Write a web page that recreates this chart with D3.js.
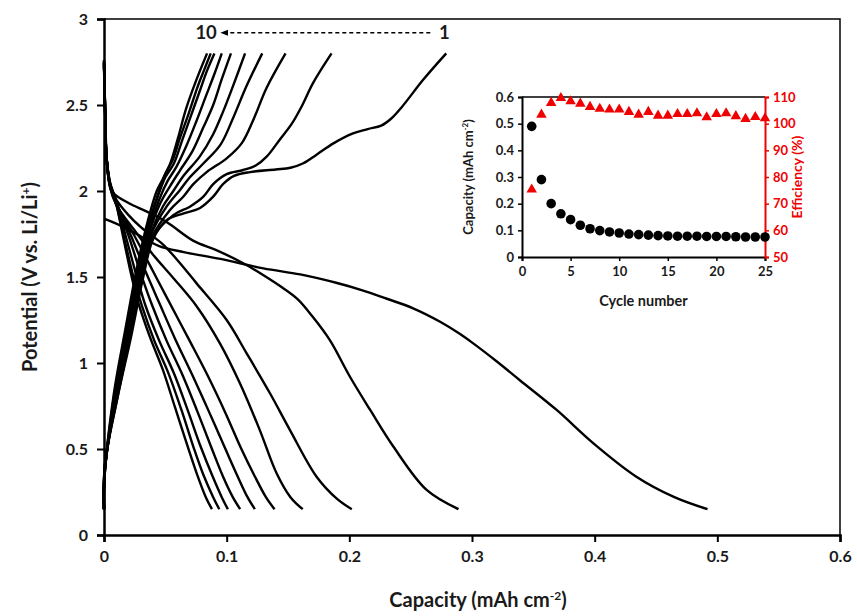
<!DOCTYPE html>
<html>
<head>
<meta charset="utf-8">
<script src="https://cdn.jsdelivr.net/npm/d3@7"></script>
<style>
  body { margin: 0; background: #fff; }
  svg { display: block; font-family: Lato, "Open Sans", sans-serif; font-weight: bold; }
</style>
</head>
<body>
<svg id="chart" width="857" height="616"></svg>
<script>
// Galvanostatic discharge curves, cycles 1..10 : [capacity mAh cm-2, potential V]
const discharge1 = [[0,1.84],[0.01,1.81],[0.024,1.76],[0.045,1.68],[0.065,1.645],[0.095,1.605],[0.13,1.55],[0.16,1.515],[0.19,1.465],[0.21,1.424],[0.23,1.375],[0.252,1.318],[0.274,1.24],[0.29,1.17],[0.301,1.114],[0.32,1.01],[0.339,0.9],[0.369,0.727],[0.399,0.533],[0.434,0.339],[0.465,0.22],[0.492,0.15]];
const discharge2 = [[0,2.75],[0.001,2.45],[0.002,2.22],[0.004,2.06],[0.0075,1.99],[0.02,1.93],[0.035,1.88],[0.051,1.82],[0.073,1.71],[0.092,1.655],[0.1135,1.58],[0.13,1.51],[0.145,1.44],[0.158,1.37],[0.17,1.27],[0.184,1.134],[0.2005,0.92],[0.217,0.727],[0.236,0.513],[0.263,0.262],[0.289,0.15]];
const discharge3 = [[0,2.76],[0.001,2.45],[0.002,2.2],[0.005,2.03],[0.01,1.95],[0.02,1.86],[0.03,1.79],[0.048,1.69],[0.062,1.58],[0.0755,1.463],[0.1,1.25],[0.1163,1.056],[0.1353,0.824],[0.1516,0.61],[0.1733,0.339],[0.19,0.21],[0.202,0.15]];
const discharge4 = [[0,2.76],[0.001,2.45],[0.002,2.2],[0.005,2.02],[0.01,1.92],[0.025,1.77],[0.04,1.63],[0.057,1.49],[0.0755,1.33],[0.0945,1.114],[0.1108,0.882],[0.127,0.61],[0.1407,0.359],[0.152,0.22],[0.162,0.15]];
const discharge5 = [[0,2.75],[0.001,2.44],[0.002,2.2],[0.005,2.02],[0.01,1.92],[0.024,1.75],[0.038,1.56],[0.052,1.37],[0.069,1.14],[0.085,0.92],[0.099,0.71],[0.112,0.5],[0.123,0.34],[0.132,0.22],[0.139,0.15]];
const discharge6 = [[0,2.75],[0.001,2.44],[0.002,2.2],[0.005,2.03],[0.01,1.93],[0.022,1.74],[0.034,1.53],[0.045,1.35],[0.058,1.14],[0.072,0.93],[0.086,0.71],[0.099,0.5],[0.109,0.34],[0.117,0.22],[0.123,0.15]];
const discharge7 = [[0,2.74],[0.001,2.44],[0.002,2.2],[0.005,2.04],[0.01,1.94],[0.02,1.74],[0.03,1.52],[0.039,1.34],[0.051,1.13],[0.064,0.93],[0.076,0.72],[0.088,0.5],[0.097,0.34],[0.105,0.22],[0.111,0.15]];
const discharge8 = [[0,2.74],[0.001,2.44],[0.002,2.2],[0.005,2.04],[0.01,1.94],[0.018,1.73],[0.026,1.52],[0.034,1.33],[0.045,1.13],[0.057,0.94],[0.068,0.73],[0.079,0.51],[0.088,0.35],[0.096,0.22],[0.101,0.15]];
const discharge9 = [[0,2.73],[0.001,2.43],[0.002,2.2],[0.005,2.04],[0.009,1.95],[0.016,1.74],[0.024,1.5],[0.031,1.33],[0.041,1.13],[0.052,0.95],[0.063,0.73],[0.073,0.51],[0.081,0.35],[0.089,0.22],[0.094,0.15]];
const discharge10 = [[0,2.72],[0.001,2.42],[0.002,2.2],[0.005,2.05],[0.009,1.96],[0.0157,1.73],[0.0226,1.5],[0.028,1.35],[0.0375,1.15],[0.048,0.96],[0.058,0.74],[0.068,0.52],[0.076,0.35],[0.083,0.22],[0.088,0.15]];

// Charge curves, cycles 1..10
const charge1 = [[0,0.15],[0.0008,0.42],[0.011,0.8],[0.022,1.15],[0.032,1.5],[0.04,1.72],[0.051,1.83],[0.065,1.87],[0.078,1.9],[0.089,1.967],[0.097,2.04],[0.106,2.088],[0.119,2.11],[0.14,2.125],[0.152,2.135],[0.162,2.16],[0.173,2.21],[0.187,2.277],[0.203,2.335],[0.215,2.36],[0.226,2.38],[0.234,2.42],[0.243,2.49],[0.26,2.645],[0.279,2.8]];
const charge2 = [[0,0.15],[0.0008,0.41],[0.011,0.8],[0.021,1.15],[0.031,1.5],[0.039,1.72],[0.0565,1.86],[0.07,1.909],[0.081,1.967],[0.089,2.04],[0.1,2.098],[0.1135,2.122],[0.124,2.15],[0.1326,2.2],[0.1434,2.3],[0.153,2.39],[0.161,2.49],[0.1706,2.63],[0.1855,2.8]];
const charge3 = [[0,0.15],[0.0007,0.4],[0.01,0.8],[0.021,1.15],[0.031,1.5],[0.039,1.73],[0.0538,1.89],[0.0646,1.967],[0.0728,2.04],[0.0837,2.11],[0.1,2.19],[0.1125,2.28],[0.1217,2.413],[0.1326,2.6],[0.148,2.8]];
const charge4 = [[0,0.15],[0.0007,0.39],[0.01,0.8],[0.02,1.15],[0.03,1.5],[0.038,1.74],[0.051,1.909],[0.062,2.006],[0.07,2.08],[0.081,2.16],[0.095,2.27],[0.105,2.42],[0.116,2.607],[0.129,2.8]];
const charge5 = [[0,0.15],[0.0006,0.38],[0.01,0.81],[0.02,1.16],[0.03,1.51],[0.038,1.75],[0.048,1.91],[0.0565,2.0],[0.065,2.09],[0.078,2.2],[0.089,2.33],[0.097,2.46],[0.105,2.607],[0.115,2.8]];
const charge6 = [[0,0.15],[0.0006,0.37],[0.0095,0.81],[0.019,1.16],[0.029,1.52],[0.037,1.76],[0.046,1.93],[0.054,2.03],[0.062,2.12],[0.072,2.23],[0.081,2.37],[0.089,2.5],[0.096,2.65],[0.1035,2.8]];
const charge7 = [[0,0.15],[0.0005,0.36],[0.009,0.81],[0.019,1.17],[0.029,1.53],[0.037,1.77],[0.045,1.95],[0.052,2.06],[0.059,2.14],[0.067,2.26],[0.075,2.4],[0.083,2.55],[0.09,2.68],[0.096,2.8]];
const charge8 = [[0,0.15],[0.0005,0.35],[0.009,0.82],[0.018,1.17],[0.028,1.54],[0.036,1.78],[0.044,1.97],[0.05,2.08],[0.057,2.16],[0.064,2.3],[0.071,2.44],[0.078,2.58],[0.084,2.7],[0.09,2.8]];
const charge9 = [[0,0.15],[0.0004,0.34],[0.0085,0.82],[0.018,1.18],[0.028,1.55],[0.036,1.8],[0.044,1.98],[0.05,2.1],[0.056,2.18],[0.062,2.31],[0.069,2.45],[0.076,2.6],[0.082,2.71],[0.087,2.8]];
const charge10 = [[0,0.15],[0.0004,0.33],[0.008,0.82],[0.017,1.18],[0.027,1.56],[0.0355,1.82],[0.043,2.0],[0.048,2.07],[0.054,2.16],[0.06,2.3],[0.067,2.48],[0.075,2.64],[0.084,2.8]];

const dischargeCurves = [discharge1, discharge2, discharge3, discharge4, discharge5, discharge6, discharge7, discharge8, discharge9, discharge10];
const chargeCurves = [charge1, charge2, charge3, charge4, charge5, charge6, charge7, charge8, charge9, charge10];

const xTicks = [0, 0.1, 0.2, 0.3, 0.4, 0.5, 0.6];
const yTicks = [0, 0.5, 1, 1.5, 2, 2.5, 3];

// Inset: capacity and coulombic efficiency vs cycle number
const cycles = d3.range(1, 26);
const capacity = [0.49,0.29,0.2,0.162,0.14,0.119,0.106,0.099,0.094,0.09,0.086,0.084,0.082,0.08,0.079,0.078,0.078,0.078,0.077,0.077,0.077,0.076,0.075,0.075,0.075];
const efficiency = [75.3,103.4,107.8,109.6,108.4,107.5,106.3,105.6,105.3,105.3,104.4,103.4,104.4,103,103,103.6,103.6,103.9,102.4,103.6,103.9,102.8,101.8,102.5,102];
const insetXTicks = [0, 5, 10, 15, 20, 25];
const insetCapTicks = [0, 0.1, 0.2, 0.3, 0.4, 0.5, 0.6];
const insetEffTicks = [50, 60, 70, 80, 90, 100, 110];

const RED = "#f00000";
const INK = "#1a1a1a";
const svg = d3.select("#chart");

// ---------- main plot ----------
const x = d3.scaleLinear().domain([0, 0.6]).range([104, 840]);
const y = d3.scaleLinear().domain([0, 3]).range([535, 19]);

const line = d3.line()
    .x(d => x(d[0]))
    .y(d => y(d[1]))
    .curve(d3.curveCatmullRom.alpha(0.5));

const curves = svg.append("g")
    .attr("fill", "none")
    .attr("stroke", "#000")
    .attr("stroke-width", 2.4)
    .attr("stroke-linejoin", "round");

curves.selectAll(".dis").data(dischargeCurves).enter().append("path")
    .attr("class", "dis").attr("d", line);
curves.selectAll(".chg").data(chargeCurves).enter().append("path")
    .attr("class", "chg").attr("d", line);

// frame
svg.append("path")
    .attr("d", `M${x(0)},${y(3)}H${x(0.6)}V${y(0)}`)
    .attr("fill", "none").attr("stroke", "#000").attr("stroke-width", 1.5);

const xAxis = svg.append("g")
    .attr("transform", `translate(0,${y(0)})`)
    .call(d3.axisBottom(x).tickValues(xTicks).tickSize(7).tickPadding(9).tickFormat(d3.format("")));
const yAxis = svg.append("g")
    .attr("transform", `translate(${x(0)},0)`)
    .call(d3.axisLeft(y).tickValues(yTicks).tickSize(7).tickPadding(9).tickFormat(d3.format("")));

[xAxis, yAxis].forEach(a => {
    a.select(".domain").attr("stroke-width", 2.5);
    a.selectAll(".tick line").attr("stroke-width", 2);
    a.selectAll("text").attr("font-size", 16).attr("font-weight", "bold")
        .attr("font-family", "Lato, sans-serif").attr("fill", INK);
});

svg.append("text")
    .attr("x", x(0.3) + 6).attr("y", 607)
    .attr("text-anchor", "middle").attr("font-size", 20).attr("fill", INK)
    .html('Capacity (mAh cm<tspan dy="-7" font-size="12">-2</tspan><tspan dy="7">)</tspan>');

svg.append("text")
    .attr("transform", `translate(37,${y(1.5)}) rotate(-90)`)
    .attr("text-anchor", "middle").attr("font-size", 20).attr("fill", INK)
    .html('Potential (V vs. Li/Li<tspan dy="-7" font-size="12">+</tspan><tspan dy="7">)</tspan>');

// cycle direction annotation
svg.append("defs").append("marker")
    .attr("id", "arrowhead").attr("viewBox", "0 0 10 10")
    .attr("refX", 5).attr("refY", 5)
    .attr("markerWidth", 6).attr("markerHeight", 6)
    .attr("orient", "auto-start-reverse")
    .append("path").attr("d", "M0,1L10,5L0,9Z").attr("fill", "#000");

svg.append("line")
    .attr("x1", x(0.266)).attr("x2", x(0.098))
    .attr("y1", y(2.92)).attr("y2", y(2.92))
    .attr("stroke", "#000").attr("stroke-width", 1.3)
    .attr("stroke-dasharray", "4,3")
    .attr("marker-end", "url(#arrowhead)");
svg.append("text").attr("x", x(0.092)).attr("y", y(2.92) + 6)
    .attr("text-anchor", "end").attr("font-size", 18.5).attr("fill", INK).text("10");
svg.append("text").attr("x", x(0.273)).attr("y", y(2.92) + 6)
    .attr("text-anchor", "start").attr("font-size", 18.5).attr("fill", INK).text("1");

// ---------- inset ----------
const ix = d3.scaleLinear().domain([0, 25]).range([522, 765]);
const iy = d3.scaleLinear().domain([0, 0.6]).range([257, 97]);
const iyE = d3.scaleLinear().domain([50, 110]).range([257, 97]);

const inset = svg.append("g");

inset.append("line")
    .attr("x1", ix(0)).attr("x2", ix(25)).attr("y1", iy(0.6)).attr("y2", iy(0.6))
    .attr("stroke", "#000").attr("stroke-width", 1.5);

const ixAxis = inset.append("g").attr("transform", `translate(0,${iy(0)})`)
    .call(d3.axisBottom(ix).tickValues(insetXTicks).tickSize(4).tickPadding(6));
const iyAxis = inset.append("g").attr("transform", `translate(${ix(0)},0)`)
    .call(d3.axisLeft(iy).tickValues(insetCapTicks).tickSize(4).tickPadding(4).tickFormat(d3.format("")));
const ieAxis = inset.append("g").attr("transform", `translate(${ix(25)},0)`)
    .call(d3.axisRight(iyE).tickValues(insetEffTicks).tickSize(4).tickPadding(4));

[ixAxis, iyAxis, ieAxis].forEach(a => {
    a.select(".domain").attr("stroke-width", 2);
    a.selectAll(".tick line").attr("stroke-width", 1.5);
    a.selectAll("text").attr("font-size", 13).attr("font-weight", "bold")
        .attr("font-family", "Lato, sans-serif").attr("fill", INK);
});
ieAxis.select(".domain").attr("stroke", RED);
ieAxis.selectAll(".tick line").attr("stroke", RED);
ieAxis.selectAll("text").attr("fill", RED);

inset.append("text")
    .attr("x", (ix(0) + ix(25)) / 2).attr("y", 306)
    .attr("text-anchor", "middle").attr("font-size", 14.5).attr("fill", INK)
    .text("Cycle number");
inset.append("text")
    .attr("transform", `translate(473,${iy(0.3)}) rotate(-90)`)
    .attr("text-anchor", "middle").attr("font-size", 13).attr("fill", INK)
    .html('Capacity (mAh cm<tspan dy="-5" font-size="8">-2</tspan><tspan dy="5">)</tspan>');
inset.append("text")
    .attr("transform", `translate(802,${iy(0.3)}) rotate(-90)`)
    .attr("text-anchor", "middle").attr("font-size", 14).attr("fill", RED)
    .text("Efficiency (%)");

inset.selectAll(".cap").data(cycles).enter().append("circle")
    .attr("class", "cap")
    .attr("cx", d => ix(d)).attr("cy", (d, i) => iy(capacity[i]))
    .attr("r", 4.8).attr("fill", "#000");

const tri = d3.symbol().type(d3.symbolTriangle).size(48);
inset.selectAll(".eff").data(cycles).enter().append("path")
    .attr("class", "eff")
    .attr("transform", (d, i) => `translate(${ix(d)},${iyE(efficiency[i])})`)
    .attr("d", tri).attr("fill", RED);
</script>
</body>
</html>
